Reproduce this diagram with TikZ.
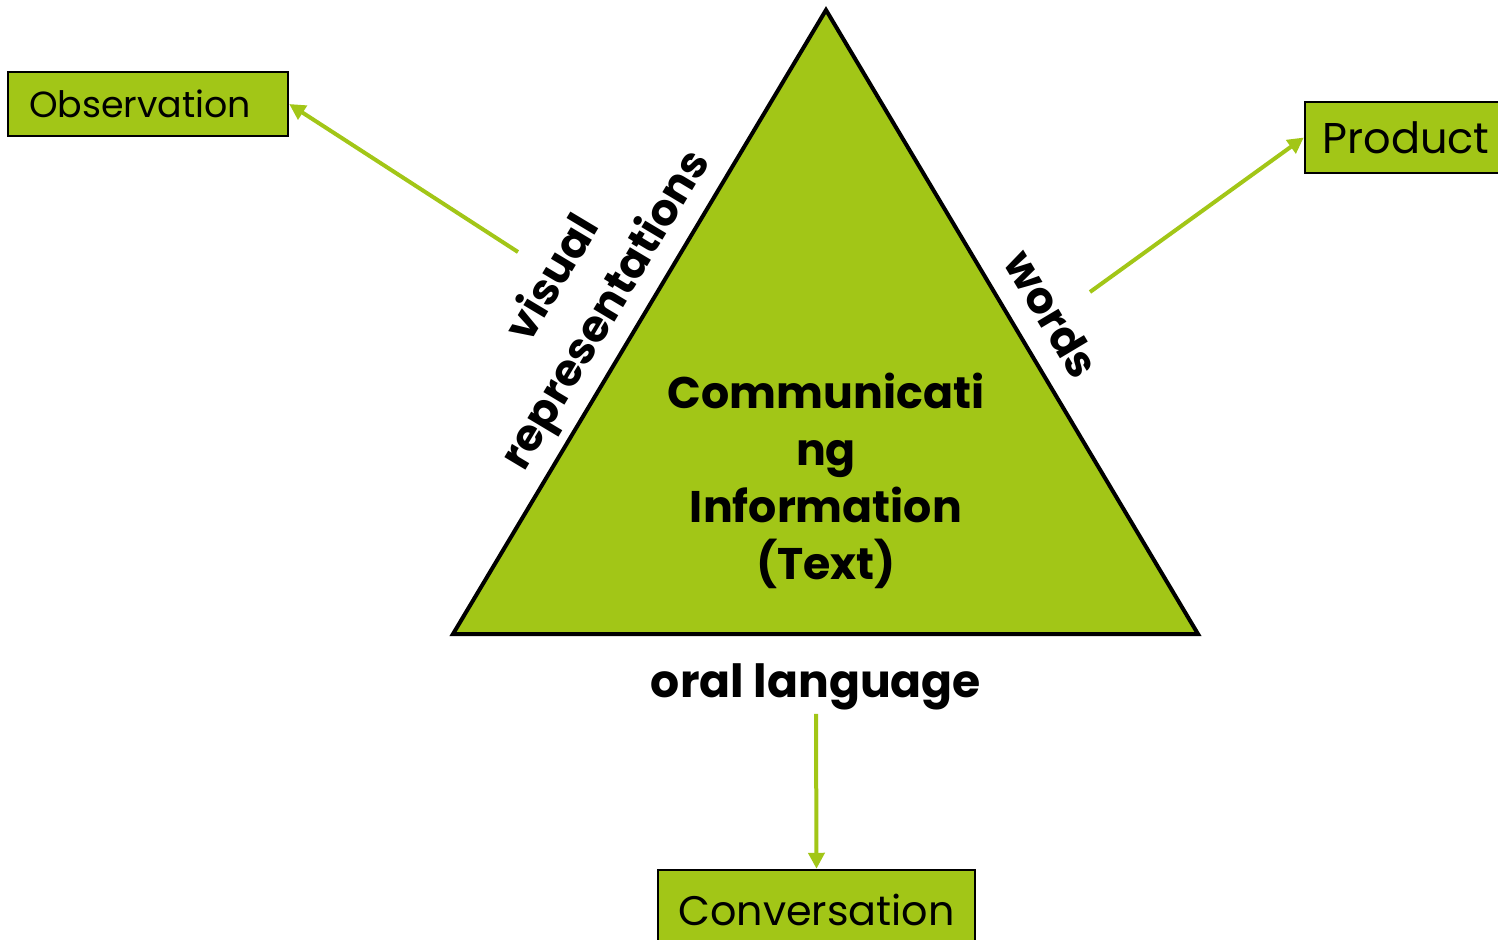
\documentclass[tikz,border=0pt]{standalone}
\usepackage{fontspec}
\setmainfont{Poppins}
\usetikzlibrary{arrows.meta,positioning,shapes}

\definecolor{leaf}{RGB}{162,198,23}

\begin{document}
\begin{tikzpicture} [x=0.02cm,y=-0.02cm,>={Triangle[length=3.2mm,width=3.2mm]},line width=0.08cm]

  \useasboundingbox (0,0) rectangle (1498,940);

  \tikzset{
    box/.style={draw=black, line width=0.05cm, fill=leaf, inner sep=0pt, font=\fontsize{22}{26}\selectfont},
    side/.style={font=\bfseries\fontsize{26}{29}\selectfont, align=center, inner sep=1pt},
    link/.style={->, draw=leaf, line width=0.08cm}
  }

  % triangle
  \coordinate (top) at (826,10);
  \coordinate (left) at (453,634);
  \coordinate (right) at (1198,634);
  \draw[fill=leaf, line join=miter] (top) -- (right) -- (left) -- cycle;

  \node (info) [side, font=\bfseries\fontsize{25.2}{32.5}\selectfont] at (826,481) {Communicati\\ng\\Information\\(Text)};

  \node (visual) [side, rotate=59.1, font=\bfseries\fontsize{25}{35}\selectfont] at (581,295) {visual\\representations};
  \node (words) [side, rotate=-59.1, font=\bfseries\fontsize{25}{29}\selectfont] at (1052,314) {words};
  \node (oral) [side] at (816,687) {oral language};

  \node (obs) [box, text width=4.76cm, minimum height=1.28cm, inner xsep=0.42cm, align=left, font=\fontsize{20.7}{24}\selectfont] at (148,104) {Observation};
  \node (prod) [box, minimum width=4.04cm, minimum height=1.42cm, font=\fontsize{24.5}{28}\selectfont] at (1406,137.5) {Product};
  \node (conv) [box, minimum width=6.34cm, minimum height=1.6cm, font=\fontsize{23.5}{28}\selectfont] at (816.5,910) {Conversation};

  \coordinate (vstart) at (518,252);
  \coordinate (wstart) at (1090,292);

  \path
    (vstart) edge [link] (obs.east)
    (wstart) edge [link] (prod.west)
    (oral.south) edge [link] (conv.north);
\end{tikzpicture}
\end{document}
